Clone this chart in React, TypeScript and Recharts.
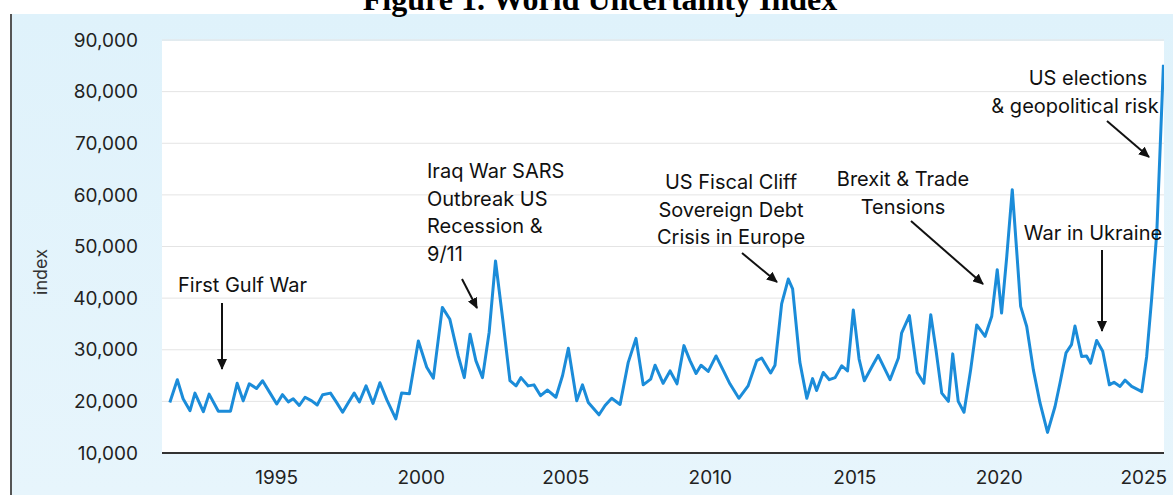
import React from 'react';
import { LineChart, Line, XAxis, YAxis, CartesianGrid } from 'recharts';

// decimal year of each vertex
const years = [
  1991.3, 1991.56, 1991.76, 1992.0, 1992.17, 1992.46, 1992.66, 1992.98, 1993.4, 1993.63,
  1993.84, 1994.05, 1994.3, 1994.51, 1994.76, 1995.0, 1995.2, 1995.4, 1995.57, 1995.78,
  1995.98, 1996.21, 1996.4, 1996.59, 1996.86, 1997.07, 1997.28, 1997.47, 1997.68, 1997.86,
  1998.09, 1998.33, 1998.57, 1998.81, 1999.12, 1999.32, 1999.59, 1999.9,
  2000.19, 2000.42, 2000.73, 2000.99, 2001.28, 2001.49, 2001.69, 2001.89, 2002.12, 2002.35,
  2002.57, 2002.82, 2003.07, 2003.28, 2003.45, 2003.7, 2003.9, 2004.13, 2004.37, 2004.66,
  2004.89, 2005.09, 2005.38, 2005.58, 2005.78, 2006.15, 2006.36, 2006.59, 2006.88, 2007.16,
  2007.43, 2007.68, 2007.94, 2008.09, 2008.37, 2008.61,
  2008.85, 2009.09, 2009.3, 2009.51, 2009.68, 2009.93, 2010.2, 2010.45, 2010.68, 2010.99,
  2011.31, 2011.61, 2011.78, 2012.09, 2012.24, 2012.47, 2012.7, 2012.85, 2013.1, 2013.34,
  2013.54, 2013.68, 2013.91, 2014.12, 2014.32, 2014.55, 2014.75, 2014.95, 2015.15, 2015.33,
  2015.64, 2015.81, 2016.22, 2016.51, 2016.62, 2016.89,
  2017.16, 2017.39, 2017.63, 2017.81, 2018.01, 2018.24, 2018.39, 2018.58, 2018.78, 2019.01,
  2019.22, 2019.51, 2019.74, 2019.93, 2020.08, 2020.26, 2020.45, 2020.6, 2020.74, 2020.95,
  2021.18, 2021.41, 2021.67, 2021.93, 2022.1, 2022.31, 2022.5, 2022.62, 2022.85, 2023.02,
  2023.16, 2023.37, 2023.58, 2023.81, 2023.97, 2024.18, 2024.35, 2024.58, 2024.93, 2025.1,
  2025.27, 2025.45, 2025.68,
];

const wui = [
  19800, 24200, 20500, 18200, 21600, 18000, 21400, 18100, 18100, 23500,
  20100, 23400, 22500, 24000, 21700, 19500, 21300, 19900, 20500, 19200,
  20800, 20100, 19300, 21300, 21600, 19800, 17900, 19700, 21600, 19900,
  23000, 19600, 23600, 20300, 16600, 21600, 21500, 31700,
  26600, 24500, 38200, 35900, 28800, 24600, 33000, 27900, 24600, 33400,
  47200, 35900, 24000, 23000, 24600, 23000, 23200, 21100, 22200, 20800,
  25000, 30300, 20100, 23200, 19800, 17400, 19200, 20600, 19400, 27500,
  32200, 23200, 24300, 27000, 23500, 25900,
  23400, 30800, 27900, 25400, 27000, 25800, 28800, 26000, 23400, 20600,
  23000, 27900, 28400, 25500, 27000, 38900, 43700, 41800, 27600, 20600,
  24400, 22100, 25600, 24200, 24600, 26900, 25900, 37700, 28200, 24000,
  27200, 28900, 24200, 28400, 33200, 36600,
  25600, 23500, 36800, 30000, 21600, 20000, 29200, 20000, 17900, 26100,
  34800, 32600, 36500, 45500, 37100, 48100, 61000, 49400, 38400, 34500,
  26100, 19700, 14000, 19000, 23500, 29400, 31000, 34600, 28700, 28800,
  27400, 31800, 29700, 23200, 23700, 22900, 24100, 22900, 21900, 28700,
  39700, 52600, 85200,
];

const xTicks = [1995, 2000, 2005, 2010, 2015, 2020, 2025];
const yTicks = [10000, 20000, 30000, 40000, 50000, 60000, 70000, 80000, 90000];

const data = years.map((year, i) => ({ year, value: wui[i] }));

const FONT = "Inter, 'Noto Sans', sans-serif";

// callouts drawn over the plot
const notes = [
  { lines: ['First Gulf War'], x: 178, y: 292, anchor: 'start' },
  { lines: ['Iraq War SARS', 'Outbreak US', 'Recession &', '9/11'], x: 427, y: 178, anchor: 'start' },
  { lines: ['US Fiscal Cliff', 'Sovereign Debt', 'Crisis in Europe'], x: 731, y: 189, anchor: 'middle' },
  { lines: ['Brexit & Trade', 'Tensions'], x: 903, y: 186, anchor: 'middle' },
  { lines: ['War in Ukraine'], x: 1093, y: 240, anchor: 'middle' },
  { lines: ['US elections'], x: 1088, y: 85, anchor: 'middle' },
  { lines: ['& geopolitical risk'], x: 1075, y: 113, anchor: 'middle' },
];

const arrows = [
  [222, 303, 222, 369],
  [462, 279, 477, 308],
  [742, 253, 777, 282],
  [911, 221, 983, 284],
  [1102, 250, 1102, 331],
  [1107, 121, 1149, 157],
];

export default function App() {
  return (
    <div style={{ position: 'absolute', left: 0, top: 0, width: 1173, height: 495, background: '#fff', overflow: 'hidden' }}>
      <div style={{ position: 'absolute', left: 10, top: 14, width: 1163, height: 481, background: 'linear-gradient(#dff2fb, #e7f5fc)' }} />
      <div style={{ position: 'absolute', left: 10, top: 14, width: 2, height: 481, background: '#555' }} />
      <div style={{ position: 'absolute', left: 162, top: 41, width: 1002, height: 412, background: '#fff' }} />
      <div style={{ position: 'absolute', left: 0, top: 0 }}>
        <LineChart width={1173} height={495} data={data} margin={{ top: 40, right: 9, bottom: 12, left: 102 }}>
          <CartesianGrid horizontal vertical={false} stroke="#e4e4e4" strokeWidth={1} />
          <XAxis
            dataKey="year"
            type="number"
            domain={[1991.03, 2025.7]}
            allowDataOverflow
            ticks={xTicks}
            height={30}
            tickLine={false}
            tickMargin={12}
            axisLine={{ stroke: '#333', strokeWidth: 2 }}
            tick={{ fontSize: 19, fill: '#222', fontFamily: FONT }}
          />
          <YAxis
            type="number"
            domain={[10000, 90000]}
            ticks={yTicks}
            width={60}
            axisLine={false}
            tickLine={false}
            tickMargin={18}
            tickFormatter={(v: number) => v.toLocaleString('en-US')}
            tick={{ fontSize: 19, fill: '#222', fontFamily: FONT }}
          />
          <Line
            type="linear"
            dataKey="value"
            stroke="#1b8cd9"
            strokeWidth={3}
            strokeLinejoin="round"
            dot={false}
            isAnimationActive={false}
          />
        </LineChart>
      </div>
      <svg width={1173} height={495} style={{ position: 'absolute', left: 0, top: 0, pointerEvents: 'none' }}>
        <defs>
          <marker id="ah" markerWidth={11} markerHeight={10} refX={10} refY={5} orient="auto" markerUnits="userSpaceOnUse">
            <path d="M0,0 L11,5 L0,10 z" fill="#111" />
          </marker>
        </defs>
        <text x={600} y={10} textAnchor="middle" fontFamily="'Liberation Serif', 'Times New Roman', serif" fontWeight="bold" fontSize={32} fill="#000">
          Figure 1. World Uncertainty Index
        </text>
        <text transform="translate(47,272) rotate(-90)" textAnchor="middle" fontFamily={FONT} fontSize={18} fill="#333">
          index
        </text>
        {notes.map((n, i) => (
          <text key={i} x={n.x} y={n.y} textAnchor={n.anchor as any} fontFamily={FONT} fontSize={20} fill="#111">
            {n.lines.map((l, j) => (
              <tspan key={j} x={n.x} dy={j === 0 ? 0 : 27.6}>{l}</tspan>
            ))}
          </text>
        ))}
        {arrows.map((a, i) => (
          <line key={i} x1={a[0]} y1={a[1]} x2={a[2]} y2={a[3]} stroke="#111" strokeWidth={2} markerEnd="url(#ah)" />
        ))}
      </svg>
    </div>
  );
}
